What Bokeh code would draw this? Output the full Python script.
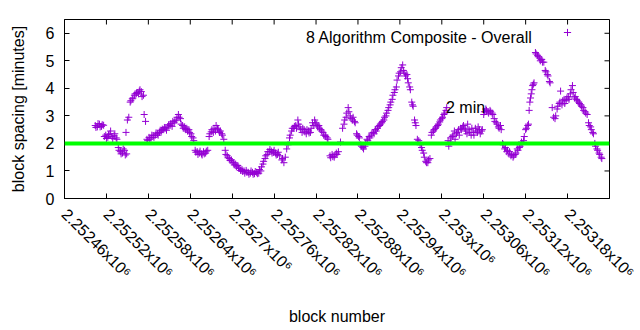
import math
from bokeh.plotting import figure
from bokeh.models import (Span, Label, Legend, LegendItem, FixedTicker, Range1d,
                          ColumnDataSource)
from bokeh.embed import file_html
from bokeh.resources import INLINE

# ---------------- data ----------------
first_block = 2252460
block_offset = [
    44, 45, 47, 48, 50, 51, 53, 54, 56,
    57, 59, 60, 62, 63, 65, 66, 68, 69, 71, 72, 74, 75,
    77, 78, 80, 81, 83, 84, 86, 87, 88, 89, 90, 92,
    94, 95, 97, 98, 100, 101, 103, 104, 106, 107, 108, 110, 111, 113, 114, 116,
    118, 119, 121, 122, 124, 125, 127, 128, 130, 131, 133, 134, 136, 137, 139, 140,
    142, 143, 145, 146, 148, 149, 151, 152, 154, 155, 157, 158, 160, 161, 163, 164, 166,
    167, 169, 170, 172, 173, 175, 176, 178, 179, 181, 182, 184, 185,
    187, 188, 190, 191, 193, 194, 196, 197, 199, 200, 202, 203, 205,
    207, 208, 210, 211, 213, 214, 216, 217, 219, 220, 222, 223, 225, 226, 228,
    230, 231, 233, 234, 236, 237, 239, 240, 242, 243, 245, 246, 248, 249, 251, 252,
    254, 255, 257, 258, 260, 261, 263, 264, 266, 267, 269, 270, 272, 273, 275, 276, 278, 279, 281,
    282, 284, 285, 287, 288, 290,
    291, 293, 294, 296, 297, 299, 300, 302, 303, 305, 306, 308,
    311, 312, 314, 316, 318, 320,
    322, 323, 325, 326, 328, 329, 331, 332, 334, 335, 337, 338,
    340, 341, 343, 344, 346, 347, 349, 350, 352, 353,
    355, 356, 358, 359, 361, 362, 364, 365,
    367, 368, 370, 371, 373, 374, 376, 377,
    380, 381, 383, 384, 386, 387, 389, 390, 392, 395,
    398, 400, 401, 403, 404, 406, 407, 409, 410, 412, 413, 415, 416,
    418, 419, 421, 422, 424, 425, 427, 428, 430, 431,
    433, 434, 436, 437, 439, 440, 442, 443, 445, 446, 448, 449, 451, 452,
    454, 455, 457, 458, 460, 461, 463, 464, 466, 467, 469, 470, 472, 473, 475, 476,
    478, 479, 481, 482, 484, 485, 487, 488, 490, 491,
    492, 494, 495, 497, 498, 499, 501, 502, 503, 505, 507,
    509, 511, 512, 514, 515, 517, 518, 520, 521, 523,
    525, 526, 528, 529, 531, 532, 534, 535, 537, 538, 540, 541, 543, 544, 546, 547,
    549, 550, 552, 553, 555, 556, 558, 559, 561, 562, 564, 565, 567, 568, 570, 571,
    573, 574, 576, 577, 579, 580, 582, 583, 585, 586, 588, 589, 591, 592, 594, 595, 597, 598,
    600, 601, 603, 604, 606, 607, 609, 610, 612, 613,
    615, 616, 618, 619, 621, 622, 624, 625,
    627, 628, 630, 631, 633, 634, 636, 637, 639, 640, 642, 643, 645, 646,
    648, 649, 651, 652, 654, 655, 657, 658,
    660, 661, 663, 664,
    665, 666, 667, 668, 669, 670, 671, 672,
    674, 675, 677, 678, 680, 681, 683, 684, 686,
    688, 689, 691, 692, 694, 695,
    698, 700, 702,
    703, 705, 706, 708, 709, 710, 712, 713, 715, 716, 718, 719, 721, 722,
    724, 725, 727, 728,
    730, 731, 733, 734, 736, 737, 739, 740, 742, 743, 745, 746, 748,
    750, 751, 753, 754, 756, 757,
    759, 760, 762, 763, 765, 766, 768, 769,
]
block_spacing_min = [
    2.65, 2.58, 2.60, 2.72, 2.70, 2.60, 2.62, 2.68, 2.66,
    2.25, 2.30, 2.18, 2.22, 2.32, 2.35, 2.45, 2.25, 2.18, 2.28, 2.35, 2.20, 2.15,
    1.85, 1.75, 1.70, 1.62, 1.65, 1.80, 1.75, 1.58, 2.40, 1.62, 2.85, 2.95,
    3.50, 3.55, 3.62, 3.65, 3.75, 3.80, 3.82, 3.85, 3.80, 3.90, 3.95, 3.88, 3.70, 3.75, 3.05, 2.80,
    2.15, 2.10, 2.22, 2.15, 2.20, 2.30, 2.28, 2.22, 2.30, 2.38, 2.35, 2.30, 2.40, 2.48, 2.45, 2.52,
    2.50, 2.58, 2.55, 2.48, 2.60, 2.68, 2.65, 2.72, 2.62, 2.80, 2.75, 2.82, 2.85, 2.95, 3.05, 2.95, 2.90,
    2.70, 2.65, 2.55, 2.60, 2.50, 2.55, 2.45, 2.50, 2.40, 2.35, 2.25, 2.20, 2.10,
    1.75, 1.68, 1.70, 1.60, 1.65, 1.72, 1.62, 1.58, 1.70, 1.62, 1.65, 1.72, 1.75,
    2.25, 2.35, 2.42, 2.50, 2.40, 2.55, 2.45, 2.65, 2.55, 2.50, 2.40, 2.45, 2.35, 2.30, 2.15,
    1.75, 1.60, 1.55, 1.48, 1.45, 1.38, 1.40, 1.32, 1.30, 1.22, 1.25, 1.15, 1.20, 1.10, 1.10, 1.02,
    1.05, 0.98, 1.00, 0.92, 1.02, 0.95, 0.95, 0.88, 0.92, 1.00, 0.95, 0.88, 0.90, 0.98, 0.95, 0.90, 0.92, 1.05, 1.00,
    1.15, 1.25, 1.35, 1.45, 1.55, 1.60,
    1.70, 1.70, 1.78, 1.72, 1.65, 1.68, 1.75, 1.65, 1.58, 1.60, 1.68, 1.55,
    1.40, 1.45, 1.30, 1.50, 1.80, 1.95,
    2.20, 2.30, 2.45, 2.55, 2.55, 2.62, 2.65, 2.55, 2.85, 2.70, 2.60, 2.50,
    2.40, 2.55, 2.50, 2.42, 2.35, 2.50, 2.45, 2.38, 2.40, 2.55,
    2.75, 2.65, 2.85, 2.75, 2.70, 2.60, 2.65, 2.55,
    2.50, 2.45, 2.40, 2.30, 2.30, 2.25, 2.20, 2.15,
    1.55, 1.48, 1.60, 1.52, 1.50, 1.58, 1.65, 1.60, 1.70, 2.05,
    2.55, 2.70, 2.85, 2.95, 3.10, 3.30, 3.15, 3.00, 2.90, 2.85, 2.95, 2.80, 2.75,
    2.35, 2.30, 2.25, 2.20, 1.95, 1.90, 1.85, 1.80, 1.90, 2.00,
    2.15, 2.10, 2.25, 2.20, 2.30, 2.38, 2.40, 2.35, 2.50, 2.45, 2.55, 2.62, 2.65, 2.70,
    2.75, 2.80, 2.85, 2.95, 3.00, 3.10, 3.20, 3.30, 3.40, 3.50, 3.60, 3.75, 3.85, 3.95, 4.05, 4.30,
    4.45, 4.55, 4.60, 4.75, 4.85, 4.65, 4.55, 4.45, 4.50, 4.35,
    4.20, 4.05, 3.95, 3.50, 3.40, 3.35, 2.85, 2.75, 2.65, 2.15, 2.10,
    1.95, 1.85, 1.75, 1.65, 1.50, 1.35, 1.30, 1.30, 1.40, 1.45,
    2.30, 2.40, 2.45, 2.50, 2.55, 2.60, 2.65, 2.70, 2.78, 2.85, 2.90, 2.95, 3.05, 3.10, 3.20, 3.30,
    2.10, 1.90, 2.05, 2.20, 2.25, 2.30, 2.45, 2.15, 2.35, 2.40, 2.50, 2.30, 2.55, 2.50, 2.60, 2.65,
    2.55, 2.45, 2.35, 2.70, 2.50, 2.40, 2.30, 2.55, 2.40, 2.30, 2.55, 2.45, 2.40, 2.60, 2.50, 2.35, 2.45, 2.50,
    3.05, 3.15, 3.25, 3.20, 3.15, 3.10, 3.20, 3.15, 3.10, 3.05,
    2.90, 2.80, 2.75, 2.70, 2.60, 2.55, 2.65, 2.50,
    2.00, 1.95, 1.80, 1.85, 1.70, 1.75, 1.62, 1.70, 1.55, 1.60, 1.50, 1.55, 1.60, 1.65,
    1.80, 1.75, 1.85, 1.90, 2.05, 2.00, 2.10, 2.25,
    2.50, 2.55, 2.65, 2.70,
    3.20, 3.50, 3.65, 3.80, 3.95, 4.10, 4.15, 4.20,
    5.30, 5.25, 5.20, 5.15, 5.10, 5.00, 5.05, 4.95, 4.95,
    4.65, 4.60, 4.50, 4.45, 4.25, 4.20,
    3.30, 2.95, 2.90,
    3.00, 3.25, 3.35, 3.45, 3.50, 3.90, 3.40, 3.55, 3.60, 3.45, 3.55, 3.65, 3.70, 3.60,
    3.80, 3.95, 4.10, 3.85,
    3.65, 3.70, 3.60, 3.55, 3.50, 3.45, 3.40, 3.35, 3.30, 3.20, 3.15, 3.10, 3.05,
    2.75, 2.65, 2.60, 2.50, 2.40, 2.35,
    2.00, 1.90, 1.80, 1.75, 1.65, 1.60, 1.50, 1.45,
]
block_number = [first_block + o for o in block_offset]

target_minutes = 2
target_label = "2 min"
series_name = "8 Algorithm Composite - Overall"

x_ticks = [2252460, 2252520, 2252580, 2252640, 2252700, 2252760, 2252820,
           2252880, 2252940, 2253000, 2253060, 2253120, 2253180, 2253240]
x_tick_labels = ["2.25246x10⁶", "2.25252x10⁶", "2.25258x10⁶", "2.25264x10⁶",
                 "2.2527x10⁶", "2.25276x10⁶", "2.25282x10⁶", "2.25288x10⁶",
                 "2.25294x10⁶", "2.253x10⁶", "2.25306x10⁶", "2.25312x10⁶",
                 "2.25318x10⁶", "2.25324x10⁶"]
y_ticks = [0, 1, 2, 3, 4, 5, 6]
y_max = 6.5

FONT = "Liberation Sans"
FS = "16px"
PURPLE = "#9400d3"
TICK = 5

# ---------------- figure ----------------
p = figure(width=640, height=330, output_backend="svg", toolbar_location=None,
           x_range=Range1d(x_ticks[0], x_ticks[-1]), y_range=Range1d(0, y_max),
           min_border_left=64, min_border_right=31, min_border_top=19,
           min_border_bottom=132)
p.background_fill_color = "white"
p.border_fill_color = "white"
p.outline_line_color = "black"
p.outline_line_width = 1
p.xgrid.visible = False
p.ygrid.visible = False

src = ColumnDataSource(dict(x=block_number, y=block_spacing_min))
r = p.scatter(x="x", y="y", source=src, marker="cross", size=7,
              line_color=PURPLE, line_width=1)

p.add_layout(Span(location=target_minutes, dimension="width",
                  line_color="#00ff00", line_width=4))

# mirrored inward ticks on the top and right border (half of each dash is clipped)
p.scatter(x=x_ticks, y=[y_max] * len(x_ticks), marker="dash", angle=math.pi / 2,
          size=2 * TICK, line_color="black", line_width=1)
p.scatter(x=[x_ticks[-1]] * len(y_ticks), y=y_ticks, marker="dash",
          size=2 * TICK, line_color="black", line_width=1)

# axes
for ax in (p.xaxis[0], p.yaxis[0]):
    ax.major_tick_in = TICK
    ax.major_tick_out = 0
    ax.minor_tick_in = 0
    ax.minor_tick_out = 0
    ax.major_label_text_font = FONT
    ax.major_label_text_font_size = FS
    ax.major_label_text_color = "black"
    ax.axis_label_text_font = FONT
    ax.axis_label_text_font_size = FS
    ax.axis_label_text_font_style = "normal"
    ax.axis_label_text_color = "black"

# the last tick label runs off the page edge, as in the reference: draw it as a label
p.xaxis.ticker = FixedTicker(ticks=x_ticks[:-1])
p.xaxis.major_label_overrides = dict(zip(x_ticks[:-1], x_tick_labels[:-1]))
p.xaxis.major_label_orientation = -math.pi / 4
p.xaxis.major_label_standoff = 13
p.xaxis.axis_label = "block number"
p.xaxis.axis_label_standoff = 18
p.add_layout(Label(x=x_ticks[-1], y=-0.47, text=x_tick_labels[-1], angle=-math.pi / 4,
                   text_font=FONT, text_font_size=FS, text_align="left",
                   text_baseline="top", text_color="black"))

p.yaxis.ticker = FixedTicker(ticks=y_ticks)
p.yaxis.major_label_standoff = 10
p.yaxis.axis_label = "block spacing [minutes]"
p.yaxis.axis_label_standoff = 16

# "2 min" label
p.add_layout(Label(x=2253006, y=3.3, text=target_label, text_font=FONT,
                   text_font_size=FS, text_baseline="alphabetic", text_color="black"))

# key: text on the left, sample on the right (gnuplot style)
p.add_layout(Label(x=2253130, y=5.85, text=series_name, text_font=FONT,
                   text_font_size=FS, text_align="right", text_baseline="alphabetic",
                   text_color="black"))
key = Legend(items=[LegendItem(label="", renderers=[r])], location=(494, 157),
             padding=0, margin=0, glyph_width=18, glyph_height=18, label_standoff=0,
             label_width=0, label_height=0, label_text_font_size="1px",
             border_line_color=None, background_fill_alpha=0)
p.add_layout(key)

open("out.html", "w").write(file_html(p, INLINE))
